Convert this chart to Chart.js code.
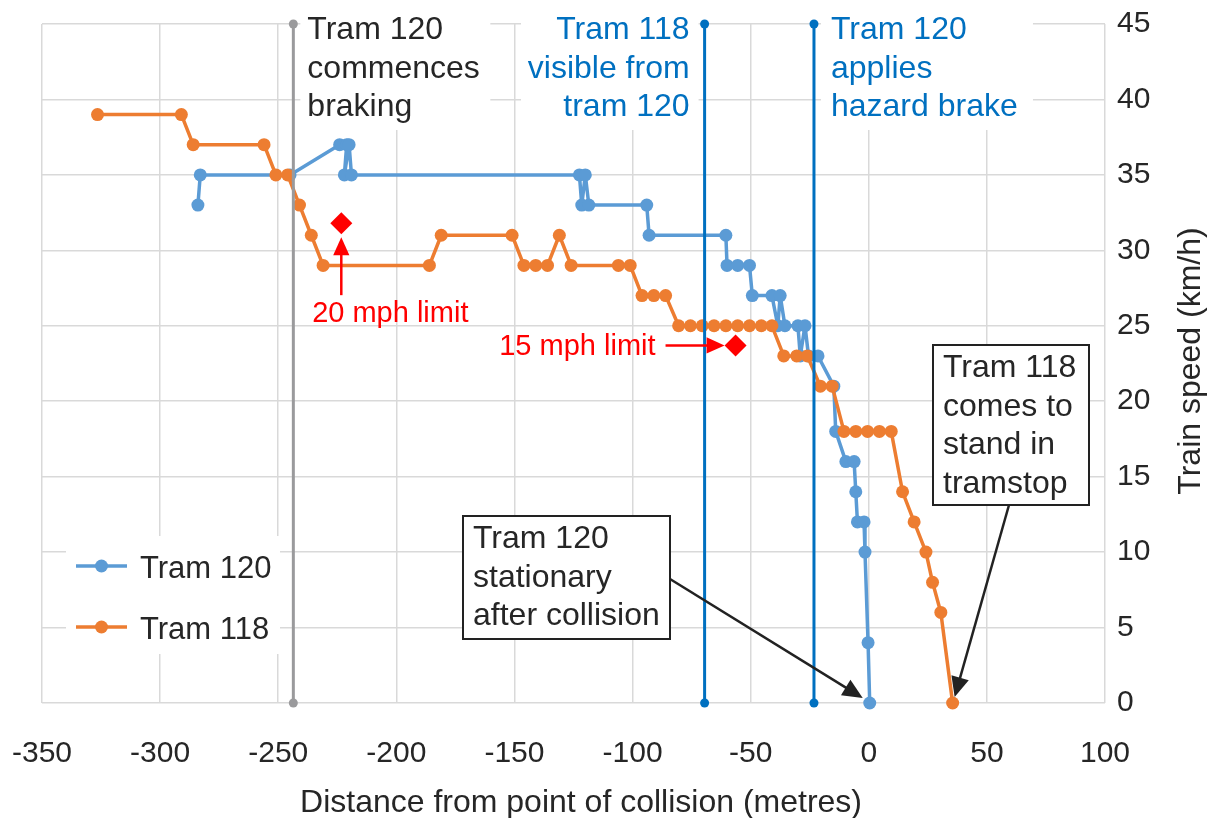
<!DOCTYPE html>
<html>
<head>
<title>Tram speeds before the collision</title>
<style>
    body { margin: 0; background: #fff; }
    #wrap { width: 1208px; height: 818px; }
</style>
</head>
<body>
<div id="wrap"><canvas id="speedChart" width="1208" height="818"></canvas></div>
<script src="https://cdn.jsdelivr.net/npm/chart.js"></script>
<script>
    // distance from point of collision (m) / speed (km/h)
    var tram120X = [-284, -283, -245, -224, -221, -222, -220, -219, -122.5, -121.5, -120, -118.5, -94, -93, -60.5, -60, -55.5, -50.5,
        -49.3, -41, -38.5, -37.5, -35.5, -30, -29, -27, -25.5, -21.5, -14.8, -14, -9.7, -6.2, -5.5, -4.8, -2, -1.6, -0.3, 0.4];
    var tram120Y = [33, 35, 35, 37, 37, 35, 37, 35, 35, 33, 35, 33, 33, 31, 31, 29, 29, 29,
        27, 27, 25, 27, 25, 25, 23, 25, 23, 23, 21, 18, 16, 16, 14, 12, 12, 10, 4, 0];

    var tram118X = [-326.5, -291, -286, -256, -251, -246, -241, -236, -231, -186, -181, -151, -146, -141, -136, -131, -126, -106, -101,
        -96, -91, -86, -80.5, -75.5, -70.5, -65.5, -60.5, -55.5, -50.5, -45.5, -41, -36, -30.5, -26, -20.5, -15.5,
        -10.5, -5.5, -0.5, 4.5, 9.5, 14.3, 19.2, 24.2, 27, 30.5, 35.5];
    var tram118Y = [39, 39, 37, 37, 35, 35, 33, 31, 29, 29, 31, 31, 29, 29, 29, 31, 29, 29, 29,
        27, 27, 27, 25, 25, 25, 25, 25, 25, 25, 25, 25, 23, 23, 23, 21, 21,
        18, 18, 18, 18, 18, 14, 12, 10, 8, 6, 0];

    var eventX = [-243.6, -69.5, -23.2];
    var eventText = [['Tram 120', 'commences', 'braking'], ['Tram 118', 'visible from', 'tram 120'], ['Tram 120', 'applies', 'hazard brake']];
    var limitX = [-223.3, -56.4];
    var limitY = [31.8, 23.7];
    var limitText = ['20 mph limit', '15 mph limit'];
    var noteText = [['Tram 120', 'stationary', 'after collision'], ['Tram 118', 'comes to', 'stand in', 'tramstop']];
    var xTitle = 'Distance from point of collision (metres)';
    var yTitle = 'Train speed (km/h)';

    var FONT = '"Liberation Sans", Arial, sans-serif';
    var TEXT = '#262626';

    function pts(xs, ys) {
        var out = [];
        xs.forEach(function (x, i) { out.push({ x: x, y: ys[i] }); });
        return out;
    }

    function lines(ctx, arr, x, y, lh, align, color, size) {
        ctx.save();
        ctx.font = size + 'px ' + FONT;
        ctx.fillStyle = color;
        ctx.textAlign = align;
        ctx.textBaseline = 'alphabetic';
        arr.forEach(function (t, i) { ctx.fillText(t, x, y + i * lh); });
        ctx.restore();
    }

    function arrow(ctx, x1, y1, x2, y2, color, w, head) {
        var a = Math.atan2(y2 - y1, x2 - x1);
        ctx.save();
        ctx.strokeStyle = color;
        ctx.fillStyle = color;
        ctx.lineWidth = w;
        ctx.beginPath();
        ctx.moveTo(x1, y1);
        ctx.lineTo(x2 - Math.cos(a) * head * 0.8, y2 - Math.sin(a) * head * 0.8);
        ctx.stroke();
        ctx.beginPath();
        ctx.moveTo(x2, y2);
        ctx.lineTo(x2 - head * Math.cos(a) + head * 0.45 * Math.sin(a), y2 - head * Math.sin(a) - head * 0.45 * Math.cos(a));
        ctx.lineTo(x2 - head * Math.cos(a) - head * 0.45 * Math.sin(a), y2 - head * Math.sin(a) + head * 0.45 * Math.cos(a));
        ctx.closePath();
        ctx.fill();
        ctx.restore();
    }

    function noteBox(ctx, x, y, w, h, textLines, baseline) {
        ctx.save();
        ctx.fillStyle = '#fff';
        ctx.fillRect(x, y, w, h);
        ctx.strokeStyle = '#222';
        ctx.lineWidth = 2;
        ctx.strokeRect(x, y, w, h);
        ctx.restore();
        lines(ctx, textLines, x + 10, baseline, 38.5, 'left', TEXT, 32);
    }

    var annotations = {
        id: 'annotations',
        beforeDatasetsDraw: function (chart) {
            var ctx = chart.ctx;
            var xs = chart.scales.x;
            ctx.save();
            ctx.fillStyle = '#fff';
            // white boxes behind the event labels and legend
            ctx.fillRect(xs.getPixelForValue(eventX[0]) + 7, 6, 190, 124);
            ctx.fillRect(521, 6, xs.getPixelForValue(eventX[1]) - 527, 124);
            ctx.fillRect(xs.getPixelForValue(eventX[2]) + 7, 6, 212, 124);
            ctx.fillRect(66, 536, 214, 118);
            ctx.restore();

            lines(ctx, eventText[0], xs.getPixelForValue(eventX[0]) + 14, 39, 38.5, 'left', TEXT, 32);
            lines(ctx, eventText[1], xs.getPixelForValue(eventX[1]) - 15, 39, 38.5, 'right', '#0070C0', 32);
            lines(ctx, eventText[2], xs.getPixelForValue(eventX[2]) + 17, 39, 38.5, 'left', '#0070C0', 32);

            // legend
            var items = [['Tram 120', '#5B9BD5'], ['Tram 118', '#ED7D31']];
            items.forEach(function (it, i) {
                var cy = 566 + i * 61;
                ctx.save();
                ctx.strokeStyle = it[1];
                ctx.fillStyle = it[1];
                ctx.lineWidth = 3.5;
                ctx.beginPath();
                ctx.moveTo(76, cy);
                ctx.lineTo(127, cy);
                ctx.stroke();
                ctx.beginPath();
                ctx.arc(101.5, cy, 6.5, 0, Math.PI * 2);
                ctx.fill();
                ctx.restore();
                lines(ctx, [it[0]], 140, cy + 12, 0, 'left', TEXT, 31);
            });
        },
        afterDraw: function (chart) {
            var ctx = chart.ctx;
            var xs = chart.scales.x, ys = chart.scales.y;

            // speed limit markers
            var l1x = xs.getPixelForValue(limitX[0]), l1y = ys.getPixelForValue(limitY[0]);
            arrow(ctx, l1x, l1y + 72, l1x, l1y + 14, '#FF0000', 2.5, 18);
            lines(ctx, [limitText[0]], l1x + 49, l1y + 99, 0, 'center', '#FF0000', 29);
            var l2x = xs.getPixelForValue(limitX[1]), l2y = ys.getPixelForValue(limitY[1]);
            arrow(ctx, l2x - 70, l2y, l2x - 11, l2y, '#FF0000', 2.5, 18);
            lines(ctx, [limitText[1]], l2x - 80, l2y + 10, 0, 'right', '#FF0000', 29);

            // notes with arrows
            var t120 = { x: xs.getPixelForValue(tram120X[tram120X.length - 1]), y: ys.getPixelForValue(0) };
            var t118 = { x: xs.getPixelForValue(tram118X[tram118X.length - 1]), y: ys.getPixelForValue(0) };
            arrow(ctx, 670, 579, t120.x - 7, t120.y - 5, '#222', 2.5, 20);
            noteBox(ctx, 463, 516, 207, 123, noteText[0], 548);
            arrow(ctx, 1009, 505, t118.x + 2, t118.y - 6, '#222', 2.5, 20);
            noteBox(ctx, 933, 345, 156, 160, noteText[1], 377);

            // axis titles
            lines(ctx, [xTitle], 581, 812, 0, 'center', TEXT, 32);
            ctx.save();
            ctx.translate(1200, 361);
            ctx.rotate(-Math.PI / 2);
            lines(ctx, [yTitle], 0, 0, 0, 'center', TEXT, 32);
            ctx.restore();
        }
    };

    function vline(x, color) {
        return {
            data: [{ x: x, y: 0 }, { x: x, y: 45 }],
            showLine: true,
            borderColor: color,
            backgroundColor: color,
            borderWidth: 3,
            pointRadius: 4.5,
            pointBorderWidth: 0,
            clip: false,
            order: -1
        };
    }

    var speedChart = new Chart(document.getElementById('speedChart').getContext('2d'), {
        type: 'scatter',
        data: {
            datasets: [{
                label: 'Tram 118',
                data: pts(tram118X, tram118Y),
                showLine: true,
                borderColor: '#ED7D31',
                backgroundColor: '#ED7D31',
                borderWidth: 3.5,
                borderJoinStyle: 'round',
                pointRadius: 6.5,
                pointBorderWidth: 0,
                clip: false,
                order: 1
            }, {
                label: 'Tram 120',
                data: pts(tram120X, tram120Y),
                showLine: true,
                borderColor: '#5B9BD5',
                backgroundColor: '#5B9BD5',
                borderWidth: 3.5,
                borderJoinStyle: 'round',
                pointRadius: 6.5,
                pointBorderWidth: 0,
                clip: false,
                order: 2
            },
            vline(eventX[0], '#9A9A9C'),
            vline(eventX[1], '#0070C0'),
            vline(eventX[2], '#0070C0'),
            {
                label: 'limits',
                data: pts(limitX, limitY),
                pointStyle: 'rectRot',
                pointRadius: 11,
                backgroundColor: '#FF0000',
                borderColor: '#FF0000',
                pointBorderWidth: 0,
                order: -2
            }]
        },
        options: {
            responsive: false,
            animation: false,
            events: [],
            layout: { padding: { left: 42, top: 24, right: 0, bottom: 0 } },
            plugins: { legend: { display: false }, tooltip: { enabled: false } },
            scales: {
                x: {
                    type: 'linear',
                    min: -350,
                    max: 100,
                    ticks: { stepSize: 50, padding: 33, color: TEXT, font: { family: FONT, size: 30 } },
                    grid: { color: '#D9D9D9', lineWidth: 1.5, drawTicks: false },
                    border: { display: false },
                    afterFit: function (s) { s.height = 115; s.paddingLeft = 0; s.paddingRight = 0; }
                },
                y: {
                    position: 'right',
                    min: 0,
                    max: 45,
                    ticks: { stepSize: 5, padding: 12, color: TEXT, font: { family: FONT, size: 30 } },
                    grid: { color: '#D9D9D9', lineWidth: 1.5, drawTicks: false },
                    border: { display: false },
                    afterFit: function (s) { s.width = 103; s.paddingTop = 0; s.paddingBottom = 0; }
                }
            }
        },
        plugins: [annotations]
    });
</script>
</body>
</html>
